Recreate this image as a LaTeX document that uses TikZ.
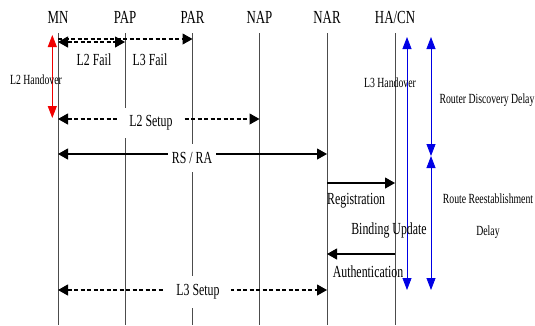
\documentclass[tikz,border=0pt]{standalone}
\usepackage{fontspec}
\setmainfont{Liberation Serif}[FakeStretch=0.7]
\usetikzlibrary{arrows.meta}
\colorlet{lfx}{black!70}
\colorlet{bux}{blue!90!black}
\colorlet{rdx}{red!95!black}
\tikzset{
    life/.style={lfx,line width=0.7bp},
    msg/.style={line width=1.1bp,-{Triangle[length=10bp,width=11bp]}},
    dmsg/.style={msg,dash pattern=on 4bp off 2.5bp},
    both/.style={{Triangle[length=10bp,width=11bp]}-{Triangle[length=10bp,width=11bp]}},
    head/.style={font=\fontsize{18.5}{20}\selectfont,inner sep=0pt},
    lbl/.style={font=\fontsize{17}{19}\selectfont,inner sep=0pt},
    cut/.style={lbl,fill=white},
    small/.style={font=\fontsize{14}{16}\selectfont,inner sep=0pt},
    delay/.style={line width=0.8bp,{Triangle[length=12bp,width=9bp]}-{Triangle[length=12bp,width=9bp]}}
}
\begin{document}
\begin{tikzpicture}[x=1bp,y=-1bp]
    \useasboundingbox (0,0) rectangle (535,325);
    % entities and lifelines
    \foreach \n/\x/\t in {MN/58/MN,PAP/125/PAP,PAR/192.5/PAR,NAP/259.5/NAP,NAR/327/NAR,HA/395/{HA/CN}} {
        \node [head] (\n) at (\x,17) {\t};
        \coordinate (\n-top) at (\x,33);
        \coordinate (\n-bot) at (\x,325);
        \draw [life] (\n-top) -- (\n-bot);
    }
    % message rows
    \coordinate (rowA) at (0,39);
    \coordinate (rowB) at (0,42);
    \coordinate (rowC) at (0,119);
    \coordinate (rowD) at (0,154);
    \coordinate (rowE) at (0,183);
    \coordinate (rowF) at (0,254);
    \coordinate (rowG) at (0,290);
    \draw [dmsg] (MN-top |- rowA) -- (PAR-top |- rowA);
    \draw [dmsg,both] (MN-top |- rowB) -- (PAP-top |- rowB);
    \draw [dmsg,both] (MN-top |- rowC) -- (NAP-top |- rowC);
    \draw [msg,both] (MN-top |- rowD) -- (NAR-top |- rowD);
    \draw [msg] (NAR-top |- rowE) -- (HA-top |- rowE);
    \draw [msg] (HA-top |- rowF) -- (NAR-top |- rowF);
    \draw [dmsg,both] (MN-top |- rowG) -- (NAR-top |- rowG);
    % handover and delay spans
    \coordinate (hoT) at (52.3,35);
    \coordinate (hoB) at (52.3,118);
    \coordinate (l3T) at (407,37);
    \coordinate (l3B) at (407,290);
    \coordinate (rdT) at (431,37);
    \coordinate (rdM) at (431,156);
    \coordinate (rdB) at (431,290);
    \draw [delay,rdx] (hoT) -- (hoB);
    \draw [delay,bux] (l3T) -- (l3B);
    \draw [delay,bux] (rdT) -- (rdM);
    \draw [delay,bux] (rdM) -- (rdB);
    % labels
    \node [lbl] (l2fail) at (94,60) {L2 Fail};
    \node [lbl] (l3fail) at (150,60) {L3 Fail};
    \node [cut,inner xsep=10bp,inner ysep=8bp] (l2setup) at (151,123) {L2 Setup};
    \node [cut,inner xsep=4bp,inner ysep=8bp] (rsra) at (192,158) {RS / RA};
    \node [cut,inner xsep=11bp,inner ysep=9bp] (l3setup) at (198,292) {L3 Setup};
    \node [lbl,anchor=west] (reg) at (327,201) {Registration};
    \node [lbl] (bu) at (389,230) {Binding Update};
    \node [lbl] (auth) at (368,272) {Authentication};
    \node [small] (l2ho) at (36,80) {L2 Handover};
    \node [small] (l3ho) at (390,83) {L3 Handover};
    \node [small] (rdd) at (487,100) {Router Discovery Delay};
    \node [small] (rre) at (488,199) {Route Reestablishment};
    \node [small] (rred) at (488,232) {Delay};
\end{tikzpicture}
\end{document}
